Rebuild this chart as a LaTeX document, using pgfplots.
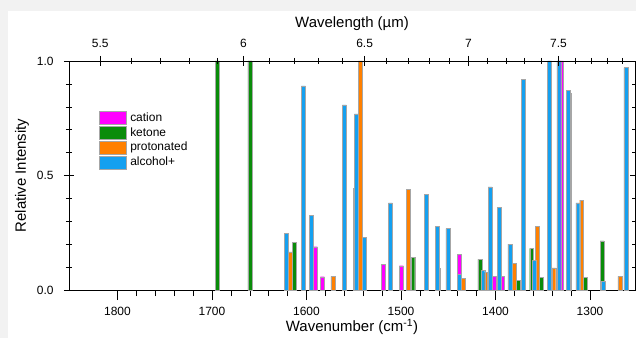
\documentclass[border=0pt]{standalone}
\usepackage{fontspec}
\setmainfont{Liberation Sans}
\usepackage{pgfplots}
\pgfplotsset{compat=1.18}
\definecolor{cation}{RGB}{255,0,255}
\definecolor{ketone}{RGB}{10,140,10}
\definecolor{proton}{RGB}{255,128,0}
\definecolor{alcohol}{RGB}{20,160,240}
\definecolor{bgframe}{RGB}{242,242,242}
\begin{document}
\begin{tikzpicture}[x=1bp,y=1bp]
\fill[bgframe] (0,0) rectangle (636,338);
\fill[white] (8,0) rectangle (636,327);
\useasboundingbox (0,0) rectangle (636,338);
\begin{axis}[
  at={(69bp,48bp)}, anchor=south west,
  scale only axis, width=566bp, height=229bp,
  xmin=1252.4, xmax=1851.3, x dir=reverse,
  ymin=0, ymax=1,
  xtick={1300,1400,1500,1600,1700,1800},
  minor x tick num=4,
  ytick={0,0.5,1}, minor y tick num=4,
  xtick pos=left, ytick pos=both,
  tick align=center,
  major tick length=10bp, minor tick length=6bp,
  every tick/.style={black, line width=0.5pt},
  axis line style={line width=0.6pt},
  /pgf/number format/assume math mode=true,
  xticklabel style={font=\fontsize{12}{14}\selectfont, /pgf/number format/1000 sep={}, yshift=-4bp},
  yticklabel style={font=\fontsize{12}{14}\selectfont, /pgf/number format/.cd, fixed, fixed zerofill, precision=1, /tikz/.cd, xshift=-7bp},
  xlabel={Wavenumber (cm\textsuperscript{-1})},
  ylabel={Relative Intensity},
  label style={font=\fontsize{15}{17}\selectfont},
  xlabel style={at={(axis description cs:0.5,-0.16)}, anchor=center},
  ylabel style={at={(axis description cs:-0.083,0.5)}, anchor=center},
  ybar, bar width=4.2,
  legend image code/.code={\draw[#1, draw=gray!70] (0bp,-6.5bp) rectangle (27bp,6.5bp);},
  legend style={at={(0.048,0.792)}, anchor=north west, draw=none, fill=none,
    font=\fontsize{12}{14}\selectfont, row sep=1.5bp,
    nodes={inner xsep=2bp, inner ysep=1bp},
    /tikz/every odd column/.append style={column sep=1.5bp}},
  legend cell align=left,
]
\addplot[fill=cation, draw=gray!70, line width=0.4pt, bar shift=0pt] coordinates {
(1590.6,0.189) (1583.3,0.058) (1548.5,0.444) (1518.7,0.113) (1499.7,0.106)
(1460.8,0.095) (1438.3,0.157) (1401.6,0.060) (1392.8,0.060) (1330.2,1.0)
(1321.6,0.859)};
\addlegendentry{cation}
\addplot[fill=ketone, draw=gray!70, line width=0.4pt, bar shift=0pt] coordinates {
(1694.4,1.0) (1659.8,1.0) (1613.2,0.208) (1487.6,0.144) (1416.5,0.134)
(1375.5,0.041) (1361.7,0.182) (1351.2,0.054) (1304.6,0.055) (1287.3,0.215)};
\addlegendentry{ketone}
\addplot[fill=proton, draw=gray!70, line width=0.4pt, bar shift=0pt] coordinates {
(1617.5,0.167) (1572.0,0.060) (1543.0,1.0) (1491.9,0.441) (1434.0,0.051)
(1410.8,0.077) (1380.1,0.115) (1355.4,0.278) (1338.4,0.097) (1308.8,0.392)
(1268.3,0.060)};
\addlegendentry{protonated}
\addplot[fill=alcohol, draw=gray!70, line width=0.4pt, bar shift=0pt] coordinates {
(1621.7,0.248) (1603.4,0.891) (1594.9,0.327) (1560.0,0.808) (1547.3,0.769)
(1538.8,0.229) (1511.3,0.380) (1473.5,0.418) (1461.9,0.278) (1450.3,0.268)
(1438.3,0.067) (1413.5,0.087) (1405.8,0.450) (1396.3,0.360) (1384.7,0.200)
(1370.2,0.921) (1359.0,0.128) (1342.7,1.0) (1333.1,1.0) (1322.6,0.872)
(1313.0,0.380) (1285.9,0.039) (1262.0,0.971)};
\addlegendentry{alcohol+}
\end{axis}
\begin{axis}[
  at={(69bp,48bp)}, anchor=south west,
  scale only axis, width=566bp, height=229bp,
  xmin=1252.4, xmax=1851.3, x dir=reverse,
  ymin=0, ymax=1,
  axis x line*=top, axis y line=none,
  xtick={1818.18,1666.67,1538.46,1428.57,1333.33,1250},
  xticklabels={5.5,6,6.5,7,7.5,8},
  minor xtick={1785.71,1754.39,1724.14,1694.92,1639.34,1612.90,1587.30,1562.50,1515.15,1492.54,1470.59,1449.28,1408.45,1388.89,1369.86,1351.35,1315.79,1298.70,1282.05,1265.82},
  tick align=center,
  major tick length=10bp, minor tick length=6bp,
  every tick/.style={black, line width=0.5pt},
  axis line style={line width=0.6pt},
  xticklabel style={font=\fontsize{12}{14}\selectfont, yshift=5bp},
  xlabel={Wavelength (µm)},
  xlabel style={font=\fontsize{15}{17}\selectfont, at={(axis description cs:0.5,1.165)}, anchor=center},
]
\end{axis}
\end{tikzpicture}
\end{document}
